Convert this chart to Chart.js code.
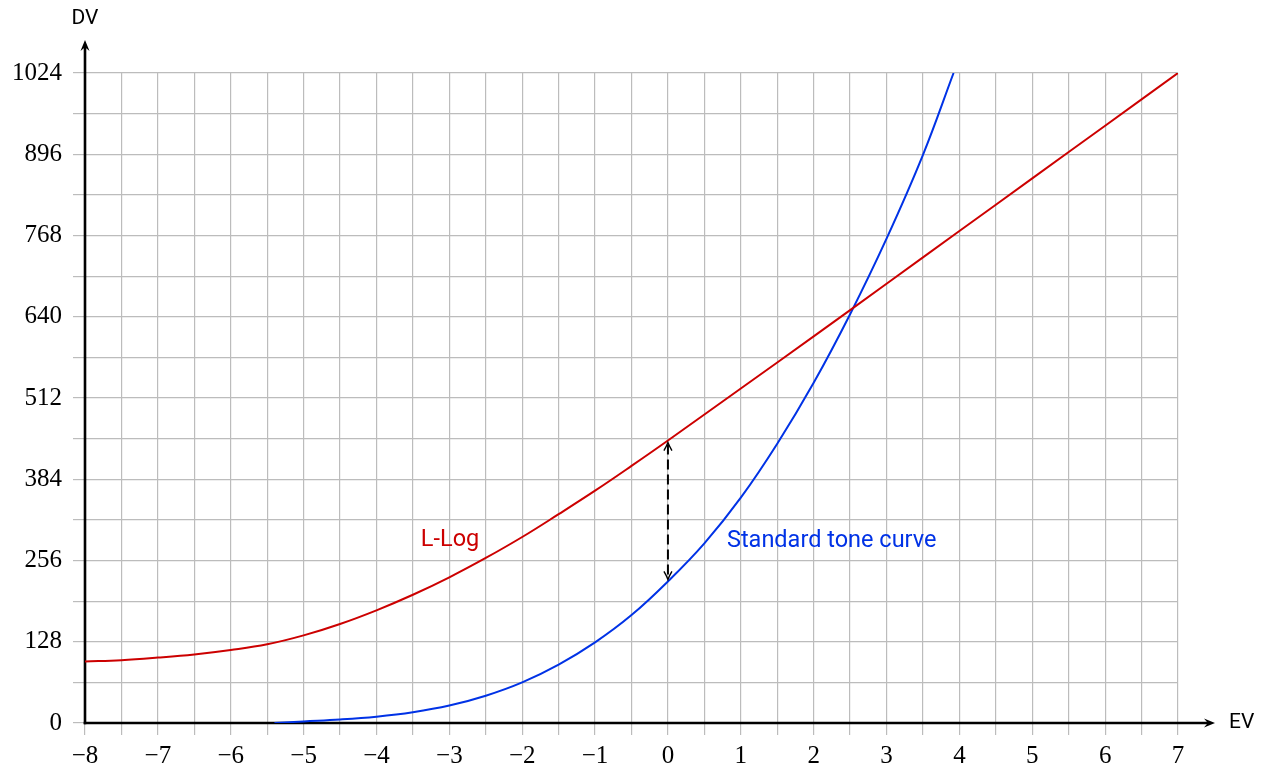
<!DOCTYPE html>
<html><head><meta charset="utf-8">
<script src="https://cdn.jsdelivr.net/npm/chart.js@4.4.1/dist/chart.umd.min.js"></script>
<style>html,body{margin:0;padding:0;background:#fff;overflow:hidden}#wrap{width:1267px;height:772px}</style>
</head><body><div id="wrap"><canvas id="c" width="1267" height="772"></canvas></div>
<script>
// ---- data ----
const evLLog = [-8, -7.5, -7, -6.5, -6, -5.5, -5, -4.5, -4, -3.5, -3, -2.5, -2, -1.5, -1, -0.5, 0, 1, 2, 3, 4, 5, 6, 7];
const dvLLog = [97, 99, 103, 108, 115, 124, 138, 156, 177.5, 202, 229.5, 260, 293, 329, 366, 405, 445, 527, 609, 692, 775, 858, 941, 1024];
const evStd = [-5.4, -5, -4.5, -4, -3.5, -3, -2.5, -2, -1.5, -1, -0.5, 0, 0.5, 1, 1.5, 2, 2.5, 3, 3.5, 3.92];
const dvStd = [0, 2.5, 5.5, 10, 17, 27.5, 43, 64, 92, 127, 170, 223, 283, 355, 440, 536, 644, 763, 895, 1024];
const xTickLabels = [-8, -7, -6, -5, -4, -3, -2, -1, 0, 1, 2, 3, 4, 5, 6, 7];
const yTickLabels = [0, 128, 256, 384, 512, 640, 768, 896, 1024];
const seriesNames = ['L-Log', 'Standard tone curve'];
const axisNames = {x: 'EV', y: 'DV'};
const markEV = 0;

const RED = 'rgb(204,0,0)', BLUE = 'rgb(0,50,230)', GRID = 'rgb(188,188,188)';
const SERIF = '"Liberation Serif", "DejaVu Serif", serif';
const SANS = 'Roboto, "DejaVu Sans", sans-serif';

function pts(xs, ys){ return xs.map((v,i)=>({x:v, y:ys[i]})); }

function stealth(ctx, tx, ty, ang, len, half){
  const dx = Math.cos(ang), dy = Math.sin(ang);
  const px = -dy, py = dx;
  ctx.beginPath();
  ctx.moveTo(tx, ty);
  ctx.lineTo(tx - len*dx + half*px, ty - len*dy + half*py);
  ctx.lineTo(tx - 0.65*len*dx, ty - 0.65*len*dy);
  ctx.lineTo(tx - len*dx - half*px, ty - len*dy - half*py);
  ctx.closePath();
  ctx.fill();
}
function vhead(ctx, tx, ty, ang, len, half){
  const dx = Math.cos(ang), dy = Math.sin(ang);
  const px = -dy, py = dx;
  ctx.beginPath();
  ctx.moveTo(tx - len*dx + half*px, ty - len*dy + half*py);
  ctx.quadraticCurveTo(tx - 0.4*len*dx + 0.3*half*px, ty - 0.4*len*dy + 0.3*half*py, tx, ty);
  ctx.quadraticCurveTo(tx - 0.4*len*dx - 0.3*half*px, ty - 0.4*len*dy - 0.3*half*py, tx - len*dx - half*px, ty - len*dy - half*py);
  ctx.stroke();
}

const overlay = {
  id: 'overlay',
  beforeDatasetsDraw(chart){
    const {ctx, scales:{x, y}} = chart;
    const x0 = x.getPixelForValue(x.min), y0 = y.getPixelForValue(0);
    const yTip = y.top - 33, xTip = x.right + 37;
    ctx.save();
    ctx.strokeStyle = '#000'; ctx.fillStyle = '#000'; ctx.lineWidth = 2.6; ctx.lineCap = 'butt';
    ctx.beginPath(); ctx.moveTo(x0, y0 + 1.3); ctx.lineTo(x0, yTip + 7); ctx.stroke();
    stealth(ctx, x0, yTip, -Math.PI/2, 11, 4.5);
    ctx.beginPath(); ctx.moveTo(x0 - 1.3, y0); ctx.lineTo(xTip - 7, y0); ctx.stroke();
    stealth(ctx, xTip, y0, 0, 11, 4.5);
    ctx.font = '21px ' + SANS; ctx.textBaseline = 'middle';
    ctx.textAlign = 'center'; ctx.fillText(axisNames.y, x0, 19);
    ctx.textAlign = 'left'; ctx.fillText(axisNames.x, xTip + 14, y0);
    ctx.restore();
  },
  afterDatasetsDraw(chart){
    const {ctx, scales:{x, y}} = chart;
    const xp = x.getPixelForValue(markEV);
    const yTop = y.getPixelForValue(dvLLog[evLLog.indexOf(markEV)]) + 2;
    const yBot = y.getPixelForValue(dvStd[evStd.indexOf(markEV)]) - 2;
    ctx.save();
    ctx.strokeStyle = '#000'; ctx.lineWidth = 2;
    ctx.setLineDash([10, 5]);
    ctx.beginPath(); ctx.moveTo(xp, yTop + 2); ctx.lineTo(xp, yBot - 2); ctx.stroke();
    ctx.setLineDash([]); ctx.lineWidth = 1.4;
    vhead(ctx, xp, yTop, -Math.PI/2, 8, 4);
    vhead(ctx, xp, yBot, Math.PI/2, 8, 4);
    ctx.font = '23.5px ' + SANS; ctx.textBaseline = 'middle';
    ctx.fillStyle = RED; ctx.textAlign = 'center';
    ctx.fillText(seriesNames[0], x.getPixelForValue(-2.99), y.getPixelForValue(288));
    ctx.fillStyle = BLUE; ctx.textAlign = 'left';
    ctx.fillText(seriesNames[1], x.getPixelForValue(0.81), y.getPixelForValue(286));
    ctx.restore();
  }
};

new Chart(document.getElementById('c'), {
  type: 'scatter',
  data: {
    datasets: [
      {label: seriesNames[0], data: pts(evLLog, dvLLog), showLine: true, borderColor: RED, borderWidth: 2, pointRadius: 0, tension: 0.4, fill: false},
      {label: seriesNames[1], data: pts(evStd, dvStd), showLine: true, borderColor: BLUE, borderWidth: 2, pointRadius: 0, tension: 0.4, fill: false}
    ]
  },
  options: {
    responsive: false, animation: false, devicePixelRatio: 1,
    layout: {padding: {left: 0, top: 73, right: 89, bottom: 0}},
    plugins: {legend: {display: false}, tooltip: {enabled: false}},
    scales: {
      x: {
        type: 'linear', min: -8, max: 7,
        afterFit(s){ s.height = 49; },
        border: {display: false},
        grid: {color: GRID, lineWidth: 1.2, tickLength: 12, tickColor: GRID, drawTicks: true},
        ticks: {stepSize: 0.5, autoSkip: false, maxRotation: 0, minRotation: 0, padding: 6, color: '#000',
          font: {family: SERIF, size: 25},
          callback(v){ return xTickLabels.includes(v) ? (v < 0 ? '\u2212' + Math.abs(v) : String(v)) : ''; }}
      },
      y: {
        type: 'linear', min: 0, max: 1024,
        afterFit(s){ s.width = 85; },
        border: {display: false},
        grid: {color: GRID, lineWidth: 1.2, tickLength: 12, tickColor: GRID, drawTicks: true},
        ticks: {stepSize: 64, autoSkip: false, padding: 11, color: '#000',
          font: {family: SERIF, size: 25},
          callback(v){ return yTickLabels.includes(v) ? String(v) : ''; }}
      }
    }
  },
  plugins: [overlay]
});
</script></body></html>
